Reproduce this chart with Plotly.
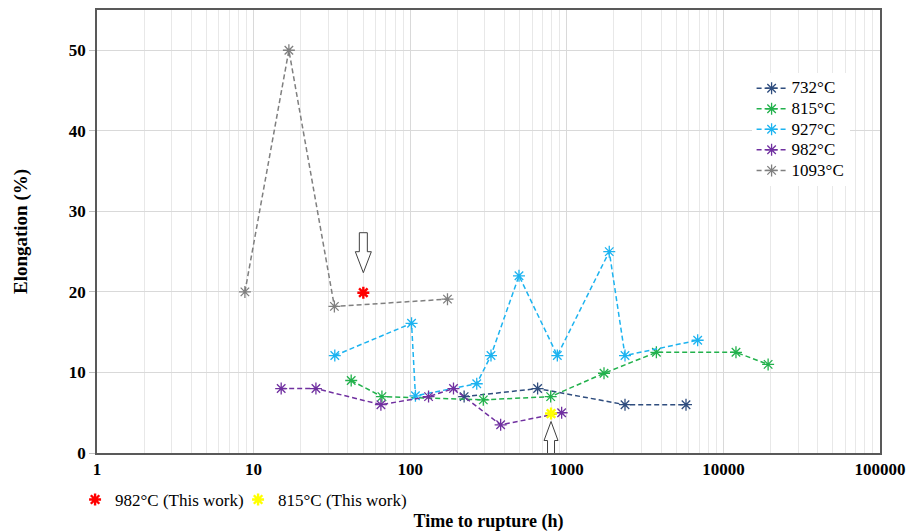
import plotly.graph_objects as go

# ---- data ----
t732 = [221, 651, 2353, 5770]
e732 = [7.0, 8.0, 6.0, 6.0]

t815 = [42, 66, 293, 789, 1728, 3732, 12030, 19300]
e815 = [9.0, 7.0, 6.6, 7.0, 9.9, 12.5, 12.5, 11.0]

t927 = [33, 102, 108, 266, 328, 495, 870, 1867, 2353, 6850]
e927 = [12.1, 16.1, 7.1, 8.6, 12.1, 22.0, 12.1, 25.0, 12.1, 14.0]

t982 = [15, 25, 65, 131, 189, 378, 927]
e982 = [8.0, 8.0, 6.0, 7.0, 8.0, 3.5, 5.0]

t1093 = [8.8, 16.8, 32.8, 173]
e1093 = [20.0, 50.0, 18.2, 19.1]

t_red = [50.2]
e_red = [19.9]
t_yellow = [793]
e_yellow = [4.9]

x_ticks = [1, 10, 100, 1000, 10000, 100000]
x_ticklabels = ["1", "10", "100", "1000", "10000", "100000"]
y_ticks = [0, 10, 20, 30, 40, 50]

series = [
    ("732°C", t732, e732, "#2F4D7E"),
    ("815°C", t815, e815, "#22B14C"),
    ("927°C", t927, e927, "#1CB3F0"),
    ("982°C", t982, e982, "#7030A0"),
    ("1093°C", t1093, e1093, "#7F7F7F"),
]

FONT = "Liberation Serif"
fig = go.Figure()

for name, t, e, c in series:
    fig.add_trace(go.Scatter(
        x=t, y=e, name='<span style="font-size:17px">' + name + '</span>',
        mode="lines+markers",
        line=dict(color=c, width=1.5, dash="5px,3px"),
        marker=dict(symbol="asterisk-open", size=10, color=c, line=dict(color=c, width=1.3)),
        legend="legend",
    ))

fig.add_trace(go.Scatter(
    x=t_red, y=e_red, name="982°C (This work)", mode="markers",
    marker=dict(symbol="asterisk-open", size=10, color="#FF0000", line=dict(color="#FF0000", width=2.4)),
    legend="legend2",
))
fig.add_trace(go.Scatter(
    x=t_yellow, y=e_yellow, name="815°C (This work)", mode="markers",
    marker=dict(symbol="asterisk-open", size=10, color="#FFFF00", line=dict(color="#FFFF00", width=2.4)),
    legend="legend2",
))
# empty spacer entry so the last legend2 entry is not clipped
fig.add_trace(go.Scatter(
    x=[None], y=[None], name=" ", mode="markers",
    marker=dict(color="rgba(0,0,0,0)", size=1),
    legend="legend2", hoverinfo="skip",
))

# hollow arrows pointing at the "this work" points
down_arrow = "M -4,60 L 4,60 L 4,41 L 8,41 L 0,20 L -8,41 L -4,41 Z"
up_arrow = "M 0,-8 L 7,-27 L 3.5,-27 L 3.5,-47 L -3.5,-47 L -3.5,-27 L -7,-27 Z"
fig.add_shape(type="path", xref="x", yref="y", xsizemode="pixel", ysizemode="pixel",
              xanchor=t_red[0], yanchor=e_red[0], path=down_arrow,
              line=dict(color="#404040", width=1), fillcolor="white")
fig.add_shape(type="path", xref="x", yref="y", xsizemode="pixel", ysizemode="pixel",
              xanchor=t_yellow[0], yanchor=e_yellow[0], path=up_arrow,
              line=dict(color="#404040", width=1), fillcolor="white")

fig.update_layout(
    width=907, height=532,
    margin=dict(l=97, r=27, t=10, b=79),
    paper_bgcolor="white", plot_bgcolor="white",
    font=dict(family=FONT, size=15, color="black"),
    legend=dict(
        x=0.836, y=0.858, xanchor="left", yanchor="top",
        bgcolor="white", font=dict(family=FONT, size=13.5),
        itemwidth=30, tracegroupgap=0,
    ),
    legend2=dict(
        x=-0.028, y=-0.106, xanchor="left", yanchor="middle",
        orientation="h", bgcolor="rgba(0,0,0,0)", font=dict(family=FONT, size=17),
        itemwidth=30, entrywidth=118,
    ),
    xaxis=dict(
        type="log", range=[0, 5], automargin=False,
        tickvals=x_ticks, ticktext=x_ticklabels,
        tickfont=dict(family=FONT, size=17, color="black", weight="bold"),
        showgrid=True, gridcolor="#D9D9D9", gridwidth=1,
        minor=dict(dtick="D1", showgrid=True, gridcolor="#E8E8E8", gridwidth=1, ticks=""),
        showline=True, linecolor="#595959", linewidth=1.5, mirror=True,
        ticks="", zeroline=False,
        title=dict(text="<b>Time to rupture (h)</b>", font=dict(family=FONT, size=18), standoff=38),
    ),
    yaxis=dict(
        range=[0, 55], automargin=False,
        tickvals=y_ticks,
        tickfont=dict(family=FONT, size=17, color="black", weight="bold"),
        showgrid=True, gridcolor="#D9D9D9", gridwidth=1,
        showline=True, linecolor="#595959", linewidth=1.5, mirror=True,
        ticks="outside", ticklen=6, tickcolor="#BFBFBF",
        zeroline=False,
        title=dict(text="<b>Elongation (%)</b>", font=dict(family=FONT, size=19), standoff=36),
    ),
)

fig.write_html("out.html")
